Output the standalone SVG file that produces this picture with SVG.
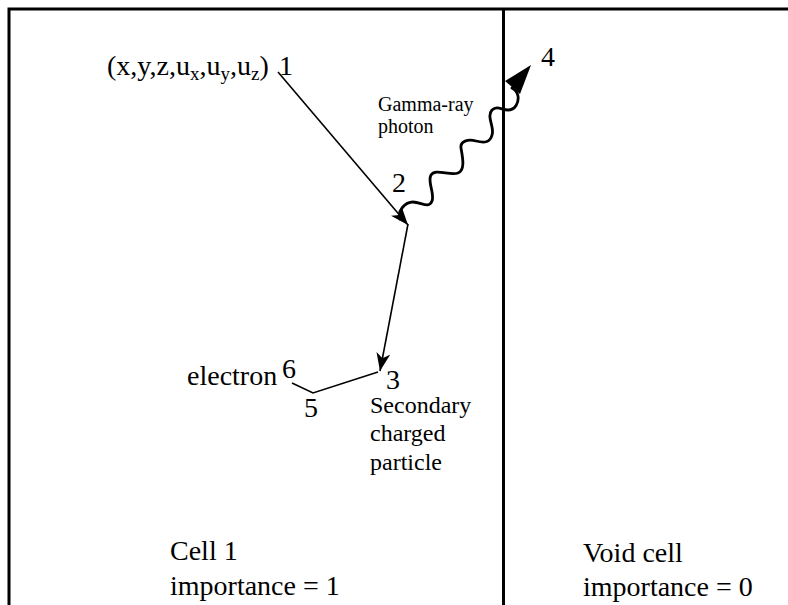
<svg xmlns="http://www.w3.org/2000/svg" width="788" height="605" viewBox="0 0 788 605">
<style>
.t{font-family:"Liberation Serif","Times New Roman",serif;fill:#000}
.big{font-size:28px}
.mid{font-size:24px}
.sm{font-size:20px}
.sub{font-size:19px}
.frame{stroke:#000;stroke-width:3;fill:none}
.ln{stroke:#000;stroke-width:1.6;fill:none}
.wave{stroke:#000;stroke-width:2.8;fill:none;stroke-linecap:round;stroke-linejoin:round}
</style>
<defs>
<marker id="ah" markerUnits="userSpaceOnUse" markerWidth="20" markerHeight="16" refX="18" refY="7" orient="auto">
<path d="M0,0 L18,7 L0,14 L5,7 Z" fill="#000"/>
</marker>
</defs>
<rect width="788" height="605" fill="#fff"/>
<g id="cells">
<path class="frame" d="M9,605 V9 H788"/>
<path class="frame" d="M503.5,9 V605"/>
</g>
<g id="connectors">
<path class="ln" d="M278,72 L408,225" marker-end="url(#ah)"/>
<path class="ln" d="M408,224 L380,371" marker-end="url(#ah)"/>
<path class="ln" d="M378,372 L313,393 L292,383"/>
<path class="wave" d="M400,219 C397,211 405,202 413,202 C421,202 429,209 432,201 C435,193 427,182 431,175 C435,168 450,176 458,173 C466,170 462,155 461,148 C460,141 468,139 476,141 C484,143 490,143 492,135 C495,127 486,117 492,110 C497,105 502,110 508,110 C515,110 519,103 518,96 C517,91 514,89 512,88"/>
<polygon points="505,81 531,65 520,94" fill="#000"/>
</g>
<g id="point1">
<text class="t big" x="107" y="75">(x,y,z,u<tspan class="sub" dy="5">x</tspan><tspan dy="-5">,u</tspan><tspan class="sub" dy="5">y</tspan><tspan dy="-5">,u</tspan><tspan class="sub" dy="5">z</tspan><tspan dy="-5">)</tspan></text>
<text class="t big" x="279" y="75">1</text>
</g>
<g id="point2"><text class="t big" x="392" y="192">2</text></g>
<g id="point3"><text class="t big" x="386" y="389">3</text></g>
<g id="point4"><text class="t big" x="541" y="66">4</text></g>
<g id="point5"><text class="t big" x="304" y="417">5</text></g>
<g id="point6">
<text class="t big" x="187" y="385">electron</text>
<text class="t big" x="282" y="378">6</text>
</g>
<g id="gamma-label">
<text class="t sm" x="378" y="111">Gamma-ray</text>
<text class="t sm" x="378" y="133">photon</text>
</g>
<g id="secondary-label">
<text class="t mid" x="370" y="413">Secondary</text>
<text class="t mid" x="370" y="441">charged</text>
<text class="t mid" x="370" y="470">particle</text>
</g>
<g id="cell1-label">
<text class="t big" x="170" y="560">Cell 1</text>
<text class="t big" x="170" y="595">importance = 1</text>
</g>
<g id="void-label">
<text class="t big" x="583" y="562">Void cell</text>
<text class="t big" x="583" y="596">importance = 0</text>
</g>
</svg>
